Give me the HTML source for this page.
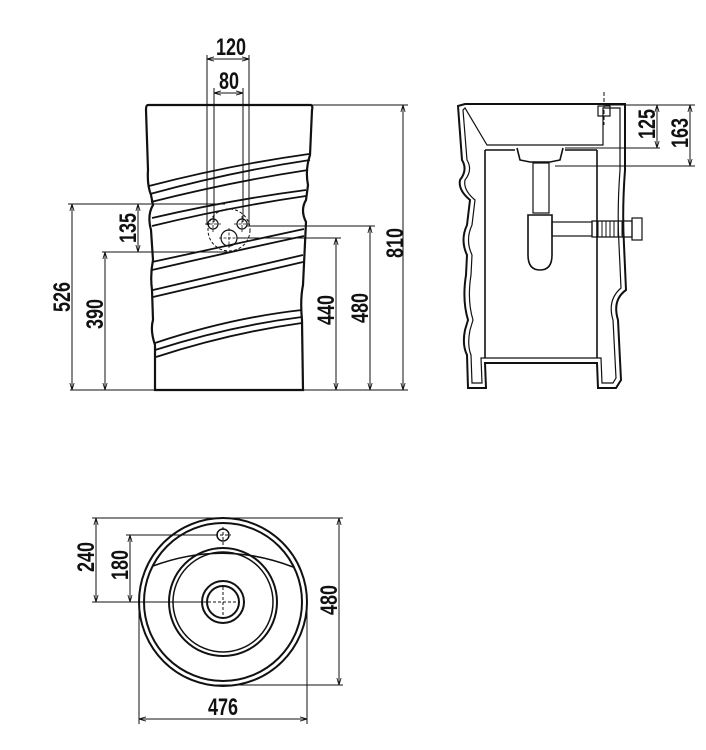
<!DOCTYPE html>
<html><head><meta charset="utf-8"><style>
html,body{margin:0;padding:0;background:#fff}
svg{display:block}
text{font-family:"Liberation Sans",sans-serif;font-weight:bold;font-size:24px;fill:#111}
</style></head><body>
<svg width="706" height="750" viewBox="0 0 706 750" xmlns="http://www.w3.org/2000/svg">
<defs>
<marker id="a" viewBox="0 0 10 10" refX="10" refY="5" markerWidth="7" markerHeight="7" orient="auto-start-reverse"><path d="M0,2 L10,5 L0,8" fill="none" stroke="#111" stroke-width="1.2"/></marker>
</defs>
<g fill="none" stroke="#111">
<path d="M148,105 L311,105 Q313,106 312,110 L310,155 Q305,170 308,185 L306,200 Q300,210 306,222 L303,285 Q300,300 302,320 L303,390 L155,390 L155,345 Q150,330 153,320 L152,290 Q150,275 153,260 L151,230 Q147,215 153,205 L151,195 Q147,185 148,170 L146,110 Q146,105 148,105 Z" stroke-width="2.2"/>
<g stroke-width="1.8">
<path d="M149,186 Q230,165 309,154"/><path d="M150,194 Q230,172 310,160"/>
<path d="M151,202 Q230,182 308,170"/>
<path d="M152,218 Q230,200 306,190"/><path d="M152,226 Q230,207 306,196"/>
<path d="M152,262 Q230,245 304,229"/><path d="M152,270 Q230,252 304,236"/>
<path d="M153,290 Q230,272 303,255"/><path d="M153,297 Q230,279 303,262"/>
<path d="M155,343 Q230,318 302,310"/><path d="M155,350 Q230,326 302,317"/><path d="M156,357 Q230,333 302,323"/>
</g>
<g stroke-width="1.2">
<circle cx="213" cy="224" r="5"/><circle cx="242" cy="224" r="5"/><circle cx="229" cy="238" r="8"/>
<circle cx="229" cy="230" r="21" stroke-dasharray="3,2" stroke-width="1"/>
<path d="M205,224h16M213,216v16M234,224h16M242,216v16M219,238h20M229,228v20" stroke-width="0.8" stroke-dasharray="3,1.5"/>
</g>
<g stroke-width="1">
<path d="M207,55V225M249,55V225M214,88V222M243,88V222"/>
<path d="M207,59H249" marker-start="url(#a)" marker-end="url(#a)"/>
<path d="M214,93H243" marker-start="url(#a)" marker-end="url(#a)"/>
<path d="M312,105H408M70,390H408"/>
<path d="M403,105V390" marker-start="url(#a)" marker-end="url(#a)"/>
<path d="M246,226H375"/><path d="M370,226V390" marker-start="url(#a)" marker-end="url(#a)"/>
<path d="M237,238H341"/><path d="M336,238V390" marker-start="url(#a)" marker-end="url(#a)"/>
<path d="M68,204H225"/><path d="M72,204V390" marker-start="url(#a)" marker-end="url(#a)"/>
<path d="M102,252H228"/><path d="M105,252V390" marker-start="url(#a)" marker-end="url(#a)"/>
<path d="M138,204V252" marker-start="url(#a)" marker-end="url(#a)"/>
</g>
<g stroke-width="1.6">
<path d="M458,106 L465,104 L625,104 L625,170 Q622,210 624,245 L626,290 Q612,300 618,320 L621,380 L616,388 L598,388 L597,363 L485,363 L486,388 L468,388 L467,355 Q462,345 465,330 L468,320 Q462,300 466,275 L467,255 Q460,240 467,225 L470,200 Q458,190 460,180 Q468,170 462,160 L458,106Z" stroke-width="2"/>
<path d="M463,110 L465,108 L487,145 L603,145 L603,108 L620,108 L620,170 Q617,210 619,245 L621,288 Q607,300 613,320 L616,378 L613,383 L602,383 L601,358 L481,358 L482,383 L472,383 L471,355 Q467,345 470,330 L473,320 Q467,300 471,275 L472,255 Q465,240 472,225 L475,200 Q463,190 465,180 Q473,170 467,160 Z" stroke-width="1.2"/>
<path d="M485,150 L485,358 M597,150 L597,358 M485,150 L515,150 M565,150 L597,150"/>
<rect x="598" y="106" width="12" height="10" stroke-width="1.2"/>
<path d="M604,92V125" stroke-dasharray="4,2" stroke-width="1"/>
<path d="M517,148 L520,160 L530,162 L550,162 L560,160 L563,148"/>
<rect x="533" y="163" width="16" height="50" stroke-width="1.2"/>
<path d="M528,215 L552,215 L552,255 Q552,270 540,270 Q528,270 528,255 Z"/>
<rect x="552" y="222" width="40" height="14" stroke-width="1.2"/>
<path d="M592,221h40v16h-40z" stroke-width="1.2"/>
<path d="M598,221v16M602,221v16M606,221v16M610,221v16M614,221v16M618,221v16M622,221v16" stroke-width="1"/>
<rect x="632" y="218" width="10" height="22" stroke-width="1.2"/>
</g>
<g stroke-width="1">
<path d="M605,105H695M565,148H660M555,166H695"/>
<path d="M657,105V148" marker-start="url(#a)" marker-end="url(#a)"/>
<path d="M690,105V166" marker-start="url(#a)" marker-end="url(#a)"/>
</g>
<g stroke-width="2">
<circle cx="223" cy="602" r="84"/><circle cx="223" cy="602" r="79"/>
<circle cx="223" cy="602" r="54"/><circle cx="223" cy="602" r="50" stroke-width="1.5"/>
<circle cx="223" cy="602" r="21"/><circle cx="223" cy="602" r="16"/>
<circle cx="223" cy="535" r="6" stroke-width="1.5"/>
<path d="M153,566 Q223,540 293,567" stroke-width="1.6"/>
</g>
<g stroke-width="1">
<path d="M223,527V545M215,535H231M223,587V617M208,602H238" stroke-dasharray="3,2"/>
<path d="M92,518H343M92,602H210M126,535H218M215,685H343"/>
<path d="M96,518V602" marker-start="url(#a)" marker-end="url(#a)"/>
<path d="M130,535V602" marker-start="url(#a)" marker-end="url(#a)"/>
<path d="M339,518V685" marker-start="url(#a)" marker-end="url(#a)"/>
<path d="M139,602V724M307,602V724"/>
<path d="M139,719H307" marker-start="url(#a)" marker-end="url(#a)"/>
</g>
</g>
<text transform="translate(231,55) scale(0.75,1)" text-anchor="middle">120</text>
<text transform="translate(229,89) scale(0.75,1)" text-anchor="middle">80</text>
<text transform="translate(403,243) rotate(-90) scale(0.75,1)" text-anchor="middle">810</text>
<text transform="translate(368,308) rotate(-90) scale(0.75,1)" text-anchor="middle">480</text>
<text transform="translate(334,310) rotate(-90) scale(0.75,1)" text-anchor="middle">440</text>
<text transform="translate(70,297) rotate(-90) scale(0.75,1)" text-anchor="middle">526</text>
<text transform="translate(103,314) rotate(-90) scale(0.75,1)" text-anchor="middle">390</text>
<text transform="translate(136,228) rotate(-90) scale(0.75,1)" text-anchor="middle">135</text>
<text transform="translate(655,124) rotate(-90) scale(0.75,1)" text-anchor="middle">125</text>
<text transform="translate(688,133) rotate(-90) scale(0.75,1)" text-anchor="middle">163</text>
<text transform="translate(94,557) rotate(-90) scale(0.75,1)" text-anchor="middle">240</text>
<text transform="translate(128,565) rotate(-90) scale(0.75,1)" text-anchor="middle">180</text>
<text transform="translate(337,600) rotate(-90) scale(0.75,1)" text-anchor="middle">480</text>
<text transform="translate(223,715) scale(0.75,1)" text-anchor="middle">476</text>
</svg>
</body></html>
